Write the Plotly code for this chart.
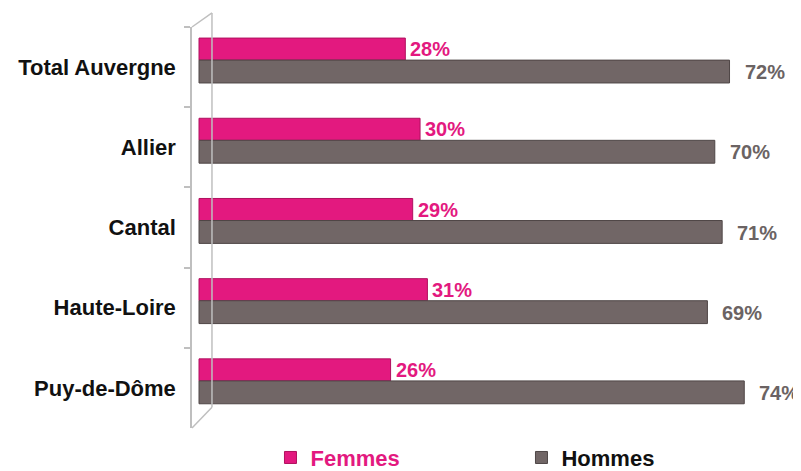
import plotly.graph_objects as go

categories = ["Total Auvergne", "Allier", "Cantal", "Haute-Loire", "Puy-de-Dôme"]
femmes = [28, 30, 29, 31, 26]
hommes = [72, 70, 71, 69, 74]

PINK = "#E3197F"
GRAY = "#716666"
FONT = "Liberation Sans, Arial, sans-serif"

fig = go.Figure()
fig.add_trace(go.Bar(
    y=categories, x=femmes, orientation="h", name="Femmes",
    marker=dict(color=PINK, line=dict(color="#B0105F", width=1)),
    offset=-0.362, width=0.275, hoverinfo="x+y",
))
fig.add_trace(go.Bar(
    y=categories, x=hommes, orientation="h", name="Hommes",
    marker=dict(color=GRAY, line=dict(color="#4F4646", width=1)),
    offset=-0.087, width=0.285, hoverinfo="x+y",
))

annotations = []
for c, f, h in zip(categories, femmes, hommes):
    annotations.append(dict(x=f, y=c, text=f"{f}%", xanchor="left", yanchor="middle",
                            xshift=3, yshift=18, showarrow=False,
                            font=dict(family=FONT, size=20, color=PINK, weight="bold")))
    annotations.append(dict(x=h, y=c, text=f"{h}%", xanchor="left", yanchor="middle",
                            xshift=13, yshift=-5, showarrow=False,
                            font=dict(family=FONT, size=20, color="#6B6363", weight="bold")))

wall = "#BFBFBF"
dx = 0.0328
shapes = [
    dict(type="line", xref="paper", yref="paper", x0=dx, y0=0.052, x1=dx, y1=1.035,
         line=dict(color=wall, width=1.5)),
    dict(type="line", xref="paper", yref="paper", x0=0, y0=1, x1=dx, y1=1.035,
         line=dict(color=wall, width=1.5)),
    dict(type="line", xref="paper", yref="paper", x0=0, y0=0, x1=dx, y1=0.052,
         line=dict(color=wall, width=1.5)),
]

# the page body adds an 8px margin, so the figure is laid out 8px up/left
fig.update_layout(
    width=793, height=463,
    margin=dict(l=184, r=0, t=19, b=43, autoexpand=False),
    paper_bgcolor="white", plot_bgcolor="white",
    barmode="group",
    showlegend=True,
    legend=dict(orientation="h", xref="container", x=0.331, xanchor="left",
                yref="paper", y=-0.074, yanchor="middle",
                font=dict(family=FONT, size=22, color="#111111", weight="bold"),
                entrywidth=206, entrywidthmode="pixels", traceorder="normal"),
    xaxis=dict(range=[-0.95, 81.7], showgrid=False, zeroline=False,
               showticklabels=False, showline=False, automargin=False),
    yaxis=dict(autorange="reversed", showline=True, linecolor=wall, linewidth=1.5,
               ticks="outside", tickson="boundaries", tickcolor=wall, ticklen=6,
               tickwidth=1.5, showgrid=False, automargin=False,
               tickfont=dict(family=FONT, size=22, color="#111111", weight="bold"),
               ticklabelstandoff=10),
    annotations=annotations,
    shapes=shapes,
)
fig.data[0].name = f"<span style='color:{PINK}'>Femmes</span>"
fig.data[1].name = "<span style='color:#111111'>Hommes</span>"

fig.write_html("out.html")
